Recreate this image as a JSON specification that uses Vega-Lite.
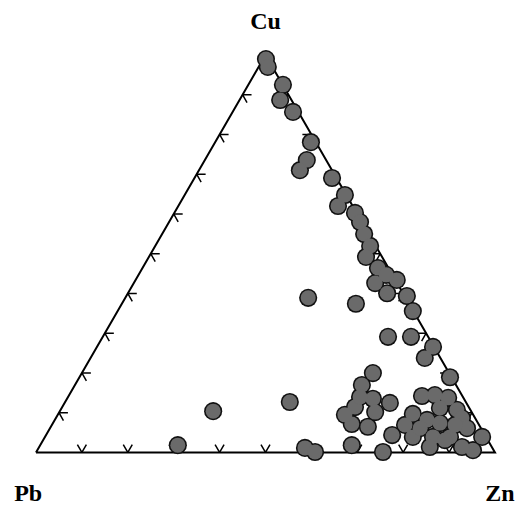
{
  "$schema": "https://vega.github.io/schema/vega-lite/v6.json",
  "width": 525,
  "height": 510,
  "autosize": {"type": "fit", "contains": "padding"},
  "padding": 0,
  "background": "white",
  "config": {"view": {"stroke": null}},
  "datasets": {
    "samples": [
      {"x": 0.501, "y": 0.857}, {"x": 0.505, "y": 0.840}, {"x": 0.538, "y": 0.801}, {"x": 0.532, "y": 0.768},
      {"x": 0.560, "y": 0.742}, {"x": 0.599, "y": 0.676}, {"x": 0.590, "y": 0.637}, {"x": 0.575, "y": 0.615},
      {"x": 0.645, "y": 0.598}, {"x": 0.658, "y": 0.537}, {"x": 0.695, "y": 0.522}, {"x": 0.715, "y": 0.476},
      {"x": 0.728, "y": 0.450}, {"x": 0.719, "y": 0.426}, {"x": 0.739, "y": 0.369}, {"x": 0.765, "y": 0.347},
      {"x": 0.786, "y": 0.376}, {"x": 0.808, "y": 0.341}, {"x": 0.821, "y": 0.308}, {"x": 0.593, "y": 0.337},
      {"x": 0.697, "y": 0.324}, {"x": 0.767, "y": 0.252}, {"x": 0.817, "y": 0.252}, {"x": 0.865, "y": 0.230},
      {"x": 0.847, "y": 0.206}, {"x": 0.902, "y": 0.164}, {"x": 0.734, "y": 0.173}, {"x": 0.710, "y": 0.147},
      {"x": 0.553, "y": 0.110}, {"x": 0.386, "y": 0.090}, {"x": 0.309, "y": 0.016}, {"x": 0.695, "y": 0.099},
      {"x": 0.734, "y": 0.117}, {"x": 0.771, "y": 0.108}, {"x": 0.688, "y": 0.062}, {"x": 0.723, "y": 0.056},
      {"x": 0.688, "y": 0.016}, {"x": 0.776, "y": 0.038}, {"x": 0.756, "y": 0.001}, {"x": 0.586, "y": 0.010},
      {"x": 0.608, "y": 0.001}, {"x": 0.841, "y": 0.123}, {"x": 0.898, "y": 0.119}, {"x": 0.821, "y": 0.084},
      {"x": 0.852, "y": 0.071}, {"x": 0.880, "y": 0.064}, {"x": 0.917, "y": 0.093}, {"x": 0.928, "y": 0.075},
      {"x": 0.939, "y": 0.053}, {"x": 0.972, "y": 0.034}, {"x": 0.952, "y": 0.005}, {"x": 0.902, "y": 0.034},
      {"x": 0.865, "y": 0.034}, {"x": 0.821, "y": 0.034}, {"x": 0.837, "y": 0.053}, {"x": 0.891, "y": 0.027},
      {"x": 0.673, "y": 0.561}, {"x": 0.706, "y": 0.502}, {"x": 0.745, "y": 0.402}, {"x": 0.763, "y": 0.387},
      {"x": 0.804, "y": 0.060}, {"x": 0.880, "y": 0.097}, {"x": 0.913, "y": 0.060}, {"x": 0.858, "y": 0.012},
      {"x": 0.928, "y": 0.012}, {"x": 0.869, "y": 0.125}, {"x": 0.673, "y": 0.082}, {"x": 0.739, "y": 0.088},
      {"x": 0.706, "y": 0.121}
    ],
    "frame": [
      {"i": 0, "x": 0, "y": 0}, {"i": 1, "x": 1, "y": 0}, {"i": 2, "x": 0.5, "y": 0.866}, {"i": 3, "x": 0, "y": 0}
    ],
    "ticks": [
      {"edge": "bottom", "x": 0.1, "y": 0}, {"edge": "bottom", "x": 0.2, "y": 0}, {"edge": "bottom", "x": 0.3, "y": 0},
      {"edge": "bottom", "x": 0.4, "y": 0}, {"edge": "bottom", "x": 0.5, "y": 0}, {"edge": "bottom", "x": 0.6, "y": 0},
      {"edge": "bottom", "x": 0.7, "y": 0}, {"edge": "bottom", "x": 0.8, "y": 0}, {"edge": "bottom", "x": 0.9, "y": 0},
      {"edge": "left", "x": 0.05, "y": 0.0866}, {"edge": "left", "x": 0.1, "y": 0.1732}, {"edge": "left", "x": 0.15, "y": 0.2598},
      {"edge": "left", "x": 0.2, "y": 0.3464}, {"edge": "left", "x": 0.25, "y": 0.433}, {"edge": "left", "x": 0.3, "y": 0.5196},
      {"edge": "left", "x": 0.35, "y": 0.6062}, {"edge": "left", "x": 0.4, "y": 0.6928}, {"edge": "left", "x": 0.45, "y": 0.7794},
      {"edge": "right", "x": 0.95, "y": 0.0866}, {"edge": "right", "x": 0.9, "y": 0.1732}, {"edge": "right", "x": 0.85, "y": 0.2598},
      {"edge": "right", "x": 0.8, "y": 0.3464}, {"edge": "right", "x": 0.75, "y": 0.433}, {"edge": "right", "x": 0.7, "y": 0.5196},
      {"edge": "right", "x": 0.65, "y": 0.6062}, {"edge": "right", "x": 0.6, "y": 0.6928}, {"edge": "right", "x": 0.55, "y": 0.7794}
    ],
    "labels": [
      {"label": "Cu", "x": 0.5, "y": 0.923},
      {"label": "Pb", "x": -0.017, "y": -0.106},
      {"label": "Zn", "x": 1.011, "y": -0.106}
    ]
  },
  "encoding": {
    "x": {"field": "x", "type": "quantitative", "axis": null,
          "scale": {"domain": [-0.0784, 1.0654], "nice": false, "zero": false}},
    "y": {"field": "y", "type": "quantitative", "axis": null,
          "scale": {"domain": [-0.1253, 0.9858], "nice": false, "zero": false}}
  },
  "layer": [
    {
      "data": {"name": "ticks"},
      "transform": [{"filter": "datum.edge === 'bottom'"}],
      "mark": {"type": "point", "shape": "M0,0L-0.5,-0.866M0,0L0.5,-0.866", "filled": false, "stroke": "black", "strokeWidth": 1.5, "size": 324, "opacity": 1}
    },
    {
      "data": {"name": "ticks"},
      "transform": [{"filter": "datum.edge === 'left'"}],
      "mark": {"type": "point", "shape": "M0,0L1,0M0,0L0.5,0.866", "filled": false, "stroke": "black", "strokeWidth": 1.5, "size": 324, "opacity": 1}
    },
    {
      "data": {"name": "ticks"},
      "transform": [{"filter": "datum.edge === 'right'"}],
      "mark": {"type": "point", "shape": "M0,0L-1,0M0,0L-0.5,0.866", "filled": false, "stroke": "black", "strokeWidth": 1.5, "size": 324, "opacity": 1}
    },
    {
      "data": {"name": "frame"},
      "mark": {"type": "line", "stroke": "black", "strokeWidth": 2, "strokeJoin": "miter"},
      "encoding": {"order": {"field": "i", "type": "quantitative"}}
    },
    {
      "data": {"name": "samples"},
      "mark": {"type": "circle", "size": 330, "fill": "#111111", "opacity": 1, "fillOpacity": 1}
    },
    {
      "data": {"name": "samples"},
      "mark": {"type": "circle", "size": 225, "fill": "#6a6a6a", "opacity": 1, "fillOpacity": 1}
    },
    {
      "data": {"name": "labels"},
      "mark": {"type": "text", "font": "Liberation Serif", "fontWeight": "bold", "fontSize": 24, "baseline": "alphabetic", "align": "center", "color": "black"},
      "encoding": {"text": {"field": "label", "type": "nominal"}}
    }
  ]
}
